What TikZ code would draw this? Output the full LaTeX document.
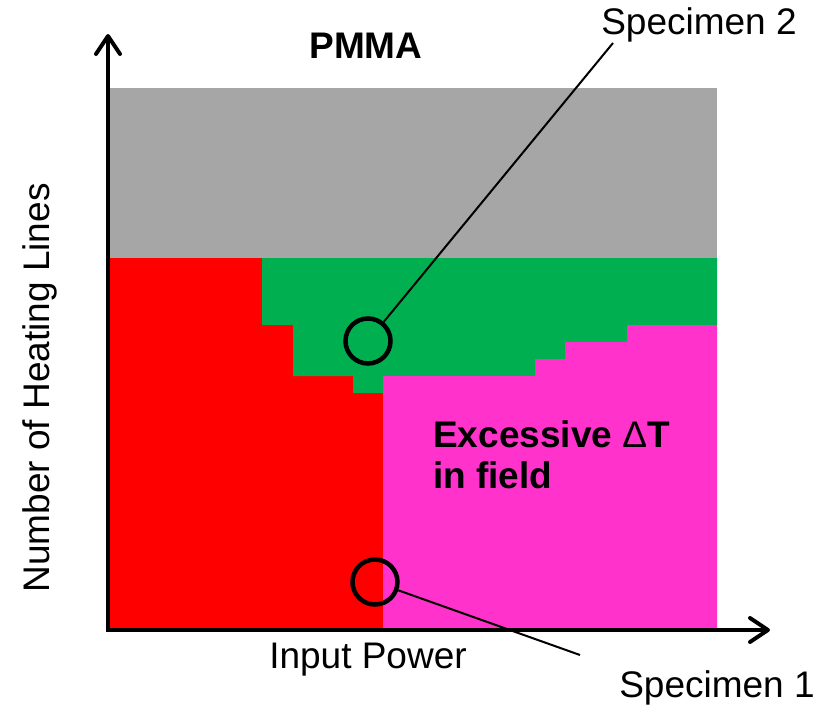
\documentclass[tikz,border=0pt]{standalone}
\usepackage{fontspec}
\setmainfont{Liberation Sans}
\usetikzlibrary{arrows.meta}
\definecolor{zonegray}{HTML}{A6A6A6}
\definecolor{zonered}{HTML}{FF0000}
\definecolor{zonegreen}{HTML}{00B050}
\definecolor{zonepink}{HTML}{FF33CC}
\begin{document}
\begin{tikzpicture}[
  x=1pt, y=-1pt,
  lbl/.style={inner sep=0pt, font=\fontsize{37}{41}\selectfont},
  blbl/.style={lbl, font=\fontsize{37}{41}\selectfont\bfseries},
  spec/.style={circle, draw, line width=4.5pt, minimum size=45pt, inner sep=0pt},
  axis/.style={line width=4pt, -{Straight Barb[length=18pt, width=24pt, line cap=round, line join=round]}},
  lead/.style={line width=2pt}
]
  \useasboundingbox (0,0) rectangle (823,707);

  % Zones
  \fill[zonegray] (110,88) rectangle (717,258);
  \fill[zonered] (110,258) -- (262,258) -- (262,325) -- (293,325) -- (293,376)
    -- (353,376) -- (353,393) -- (383,393) -- (383,630) -- (110,630) -- cycle;
  \fill[zonegreen] (262,258) -- (717,258) -- (717,325) -- (627,325) -- (627,342)
    -- (565,342) -- (565,359) -- (535,359) -- (535,376) -- (383,376) -- (383,393)
    -- (353,393) -- (353,376) -- (293,376) -- (293,325) -- (262,325) -- cycle;
  \fill[zonepink] (383,376) -- (535,376) -- (535,359) -- (565,359) -- (565,342)
    -- (627,342) -- (627,325) -- (717,325) -- (717,630) -- (383,630) -- cycle;

  % Axes
  \coordinate (ytip) at (108,34);
  \coordinate (xtip) at (770,630);
  \draw[axis] (108,632) -- (ytip);
  \draw[axis] (106,630) -- (xtip);

  % Labels
  \node[blbl] (title) at (366,46) {PMMA};
  \node[lbl] (xlab) at (368,660) {Input Power};
  \node[lbl, rotate=90] (ylab) at (40,388) {Number of Heating Lines};
  \node[blbl, align=left, anchor=west] (dT) at (433,455) {Excessive \textmd{Δ}T\\in field};

  % Specimens
  \node[spec] (s2) at (368,341) {};
  \node[spec] (s1) at (375,582) {};
  \node[lbl] (s2txt) at (699,25) {Specimen 2};
  \node[lbl] (s1txt) at (717,688) {Specimen 1};
  \coordinate (s2end) at (613,43);
  \coordinate (s1end) at (580,655);
  \draw[lead] (s2) -- (s2end);
  \draw[lead] (s1) -- (s1end);
\end{tikzpicture}
\end{document}
